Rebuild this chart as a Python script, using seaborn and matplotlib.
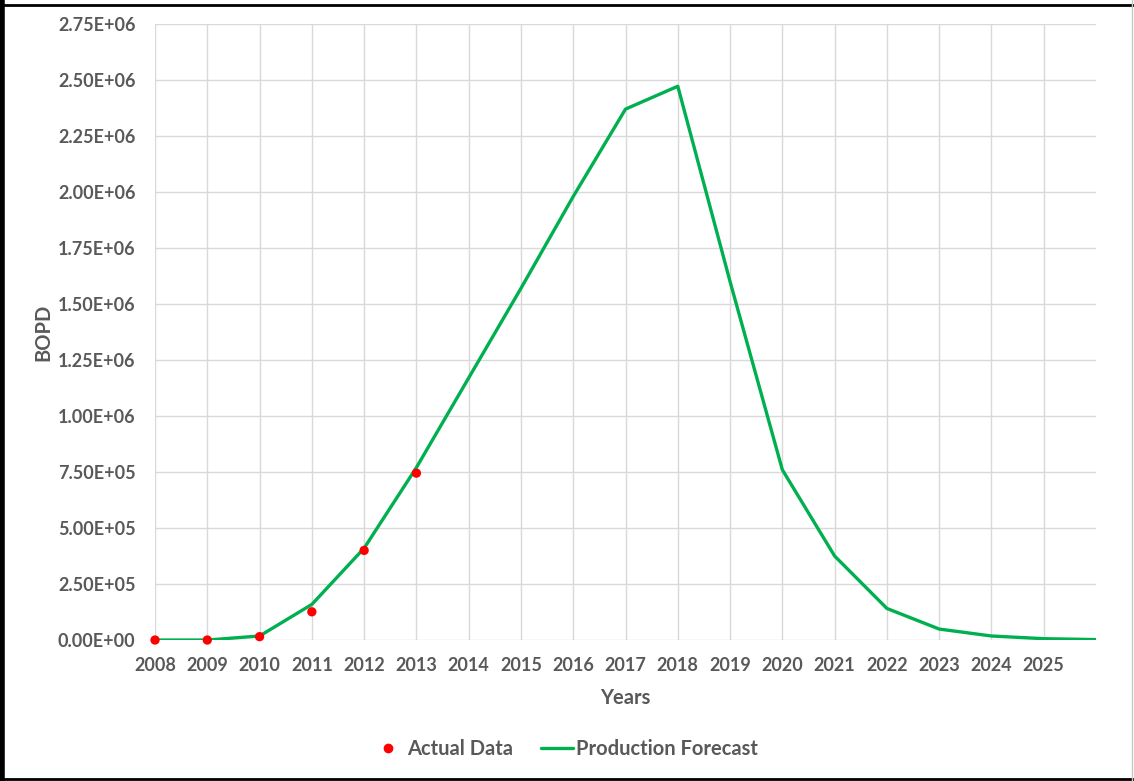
import seaborn as sns
import pandas as pd
import numpy as np
import matplotlib.pyplot as plt
from matplotlib.lines import Line2D

# data
years = [2008, 2009, 2010, 2011, 2012, 2013, 2014, 2015, 2016, 2017,
         2018, 2019, 2020, 2021, 2022, 2023, 2024, 2025, 2026]
forecast = [0, 0, 1.8e4, 1.59e5, 4.1e5, 7.7e5, 1.17e6, 1.57e6, 1.98e6, 2.37e6,
            2.472e6, 1.6e6, 7.6e5, 3.75e5, 1.41e5, 4.9e4, 1.8e4, 6e3, 2e3]
actual_years = [2008, 2009, 2010, 2011, 2012, 2013]
actual = [0, 0, 1.5e4, 1.26e5, 4.0e5, 7.45e5]

df_fc = pd.DataFrame({"Years": years, "BOPD": forecast})
df_act = pd.DataFrame({"Years": actual_years, "BOPD": actual})

sns.set_theme(style="white")
plt.rcParams['font.family'] = ['Lato', 'DejaVu Sans']
grey = "#595959"

fig, ax = plt.subplots(figsize=(11.34, 7.81), dpi=100)
fig.subplots_adjust(left=0.1367, right=0.9665, top=0.9693, bottom=0.1805)

sns.lineplot(data=df_fc, x="Years", y="BOPD", color="#00b050", linewidth=2.4,
             ax=ax, label="Production Forecast", zorder=3)
sns.scatterplot(data=df_act, x="Years", y="BOPD", color="#ff0000", s=45,
                edgecolor="none", ax=ax, label="Actual Data", zorder=4,
                clip_on=False)

ax.set_xlim(2008, 2026)
ax.set_ylim(0, 2.75e6)
ax.set_xticks(range(2008, 2026))
ax.set_yticks(np.arange(0, 2.76e6, 2.5e5))
ax.set_yticklabels([f"{v:.2E}" for v in np.arange(0, 2.76e6, 2.5e5)])
ax.grid(True, color="#d9d9d9", linewidth=1)
for s in ax.spines.values():
    s.set_visible(False)
ax.tick_params(axis="both", length=0, labelsize=13, labelcolor=grey)
ax.tick_params(axis="y", pad=14)
ax.tick_params(axis="x", pad=12)
for lab in ax.get_xticklabels() + ax.get_yticklabels():
    lab.set_fontweight("bold")
ax.set_xlabel("Years", fontsize=14.5, fontweight="bold", color=grey, labelpad=10)
ax.set_ylabel("BOPD", fontsize=14.5, fontweight="bold", color=grey)
ax.yaxis.set_label_coords(-0.108, 0.5)

ax.get_legend().remove()
handles = [Line2D([], [], marker="o", color="#ff0000", linestyle="none", markersize=6),
           Line2D([], [], color="#00b050", linewidth=2.4)]
leg = fig.legend(handles, ["Actual Data", "Production Forecast"], loc="center",
                 bbox_to_anchor=(565 / 1134, 1 - 749 / 781), ncol=2, frameon=False,
                 prop={"size": 14.5, "weight": "bold"}, handlelength=1.6,
                 columnspacing=1.4, handletextpad=0.15)
for t in leg.get_texts():
    t.set_color(grey)

# outer frame like the screenshot
fig.add_artist(Line2D([0.002, 0.002], [0, 1], color="black", linewidth=4, transform=fig.transFigure))
fig.add_artist(Line2D([0, 1], [1 - 5 / 781, 1 - 5 / 781], color="black", linewidth=2, transform=fig.transFigure))
fig.add_artist(Line2D([0, 1], [2.5 / 781, 2.5 / 781], color="black", linewidth=2, transform=fig.transFigure))
fig.add_artist(Line2D([0.9985, 0.9985], [0, 1], color="#c8c8c8", linewidth=1, transform=fig.transFigure))

plt.savefig("out.png")
